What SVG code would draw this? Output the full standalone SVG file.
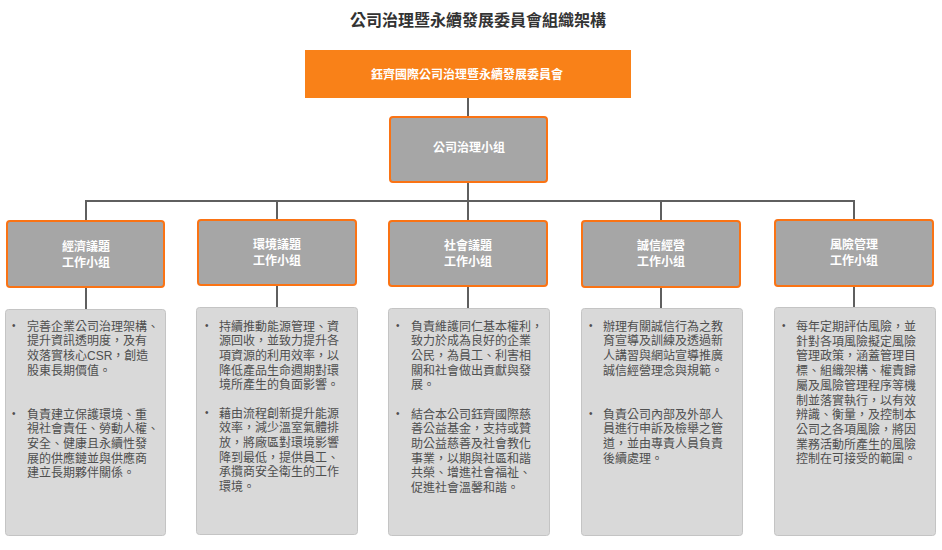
<svg xmlns="http://www.w3.org/2000/svg" width="942" height="550" viewBox="0 0 942 550">
<style>
text{font-family:"Liberation Sans","Noto Sans CJK TC",sans-serif;}
.title{font-size:16px;font-weight:bold;fill:#333333;text-anchor:middle;}
.top{fill:#f98118;}
.grp{fill:#a6a6a6;stroke:#fa7314;stroke-width:2;}
.desc{fill:#d9d9d9;stroke:#c4c4c4;stroke-width:1;}
.lbl{font-size:12px;font-weight:bold;fill:#ffffff;text-anchor:middle;}
.txt{font-size:12px;fill:#4f4f4f;}
.bul{font-size:10px;fill:#4f4f4f;}
.conn line{stroke:#5f5f5f;stroke-width:2;}
</style>
<rect width="942" height="550" fill="#ffffff"/>
<text class="title" x="478" y="26">公司治理暨永續發展委員會組織架構</text>
<g class="conn" id="connectors">
<line x1="468" y1="98" x2="468" y2="117"/>
<line x1="468" y1="182" x2="468" y2="201"/>
<line x1="85" y1="201" x2="854" y2="201"/>
<line x1="86" y1="200" x2="86" y2="221"/>
<line x1="277" y1="200" x2="277" y2="220"/>
<line x1="468" y1="200" x2="468" y2="221"/>
<line x1="661" y1="200" x2="661" y2="221"/>
<line x1="854" y1="200" x2="854" y2="220"/>
<line x1="86" y1="287" x2="86" y2="309"/>
<line x1="277" y1="285" x2="277" y2="307"/>
<line x1="468" y1="286" x2="468" y2="308"/>
<line x1="661" y1="287" x2="661" y2="308"/>
<line x1="854" y1="286" x2="854" y2="307"/>
</g>
<g id="committee">
<rect class="top" x="305" y="50" width="326" height="48"/>
<text class="lbl" x="467" y="79">鈺齊國際公司治理暨永續發展委員會</text>
</g>
<g id="cg-group">
<rect class="grp" x="390" y="117" width="157" height="65" rx="3"/>
<text class="lbl" x="469" y="152">公司治理小组</text>
</g>
<g id="econ">
<rect class="grp" x="7" y="221" width="157" height="66" rx="3"/>
<text class="lbl" x="86" y="251">經濟議題</text>
<text class="lbl" x="86" y="267">工作小组</text>
</g>
<g id="env">
<rect class="grp" x="198" y="220" width="158" height="65" rx="3"/>
<text class="lbl" x="277" y="249">環境議題</text>
<text class="lbl" x="277" y="265">工作小组</text>
</g>
<g id="soc">
<rect class="grp" x="389" y="221" width="158" height="65" rx="3"/>
<text class="lbl" x="468" y="250">社會議題</text>
<text class="lbl" x="468" y="266">工作小组</text>
</g>
<g id="integ">
<rect class="grp" x="582" y="221" width="158" height="66" rx="3"/>
<text class="lbl" x="661" y="250">誠信經營</text>
<text class="lbl" x="661" y="266">工作小组</text>
</g>
<g id="risk">
<rect class="grp" x="775" y="220" width="158" height="66" rx="3"/>
<text class="lbl" x="854" y="249">風險管理</text>
<text class="lbl" x="854" y="265">工作小组</text>
</g>
<g id="econ-desc">
<rect class="desc" x="5.5" y="309.5" width="160" height="226" rx="3"/>
<text class="bul" x="12" y="329">•</text>
<text class="txt" y="330.5"><tspan x="27">完善企業公司治理架構、</tspan><tspan x="27" dy="14.7">提升資訊透明度，及有</tspan><tspan x="27" dy="14.7">效落實核心CSR，創造</tspan><tspan x="27" dy="14.7">股東長期價值。</tspan></text>
<text class="bul" x="12" y="417">•</text>
<text class="txt" y="418.5"><tspan x="27">負責建立保護環境、重</tspan><tspan x="27" dy="14.7">視社會責任、勞動人權、</tspan><tspan x="27" dy="14.7">安全、健康且永續性發</tspan><tspan x="27" dy="14.7">展的供應鏈並與供應商</tspan><tspan x="27" dy="14.7">建立長期夥伴關係。</tspan></text>
</g>
<g id="env-desc">
<rect class="desc" x="196.5" y="307.5" width="161" height="227" rx="3"/>
<text class="bul" x="205" y="329">•</text>
<text class="txt" y="330.5"><tspan x="219">持續推動能源管理、資</tspan><tspan x="219" dy="14.7">源回收，並致力提升各</tspan><tspan x="219" dy="14.7">項資源的利用效率，以</tspan><tspan x="219" dy="14.7">降低產品生命週期對環</tspan><tspan x="219" dy="14.7">境所產生的負面影響。</tspan></text>
<text class="bul" x="205" y="416">•</text>
<text class="txt" y="417.5"><tspan x="219">藉由流程創新提升能源</tspan><tspan x="219" dy="14.7">效率，減少溫室氣體排</tspan><tspan x="219" dy="14.7">放，將廠區對環境影響</tspan><tspan x="219" dy="14.7">降到最低，提供員工、</tspan><tspan x="219" dy="14.7">承攬商安全衛生的工作</tspan><tspan x="219" dy="14.7">環境。</tspan></text>
</g>
<g id="soc-desc">
<rect class="desc" x="388.5" y="308.5" width="161" height="227" rx="3"/>
<text class="bul" x="396" y="329">•</text>
<text class="txt" y="330.5"><tspan x="411">負責維護同仁基本權利，</tspan><tspan x="411" dy="14.7">致力於成為良好的企業</tspan><tspan x="411" dy="14.7">公民，為員工、利害相</tspan><tspan x="411" dy="14.7">關和社會做出貢獻與發</tspan><tspan x="411" dy="14.7">展。</tspan></text>
<text class="bul" x="396" y="417">•</text>
<text class="txt" y="418.5"><tspan x="411">結合本公司鈺齊國際慈</tspan><tspan x="411" dy="14.7">善公益基金，支持或贊</tspan><tspan x="411" dy="14.7">助公益慈善及社會教化</tspan><tspan x="411" dy="14.7">事業，以期與社區和諧</tspan><tspan x="411" dy="14.7">共榮、增進社會福祉、</tspan><tspan x="411" dy="14.7">促進社會溫馨和諧。</tspan></text>
</g>
<g id="integ-desc">
<rect class="desc" x="581.5" y="308.5" width="161" height="227" rx="3"/>
<text class="bul" x="589" y="329">•</text>
<text class="txt" y="330.5"><tspan x="603">辦理有關誠信行為之教</tspan><tspan x="603" dy="14.7">育宣導及訓練及透過新</tspan><tspan x="603" dy="14.7">人講習與網站宣導推廣</tspan><tspan x="603" dy="14.7">誠信經營理念與規範。</tspan></text>
<text class="bul" x="589" y="417">•</text>
<text class="txt" y="418.5"><tspan x="603">負責公司內部及外部人</tspan><tspan x="603" dy="14.7">員進行申訴及檢舉之管</tspan><tspan x="603" dy="14.7">道，並由專責人員負責</tspan><tspan x="603" dy="14.7">後續處理。</tspan></text>
</g>
<g id="risk-desc">
<rect class="desc" x="774.5" y="307.5" width="161" height="228" rx="3"/>
<text class="bul" x="782" y="329">•</text>
<text class="txt" y="331"><tspan x="796">每年定期評估風險，並</tspan><tspan x="796" dy="14.7">針對各項風險擬定風險</tspan><tspan x="796" dy="14.7">管理政策，涵蓋管理目</tspan><tspan x="796" dy="14.7">標、組織架構、權責歸</tspan><tspan x="796" dy="14.7">屬及風險管理程序等機</tspan><tspan x="796" dy="14.7">制並落實執行，以有效</tspan><tspan x="796" dy="14.7">辨識、衡量，及控制本</tspan><tspan x="796" dy="14.7">公司之各項風險，將因</tspan><tspan x="796" dy="14.7">業務活動所產生的風險</tspan><tspan x="796" dy="14.7">控制在可接受的範圍。</tspan></text>
</g>
</svg>
